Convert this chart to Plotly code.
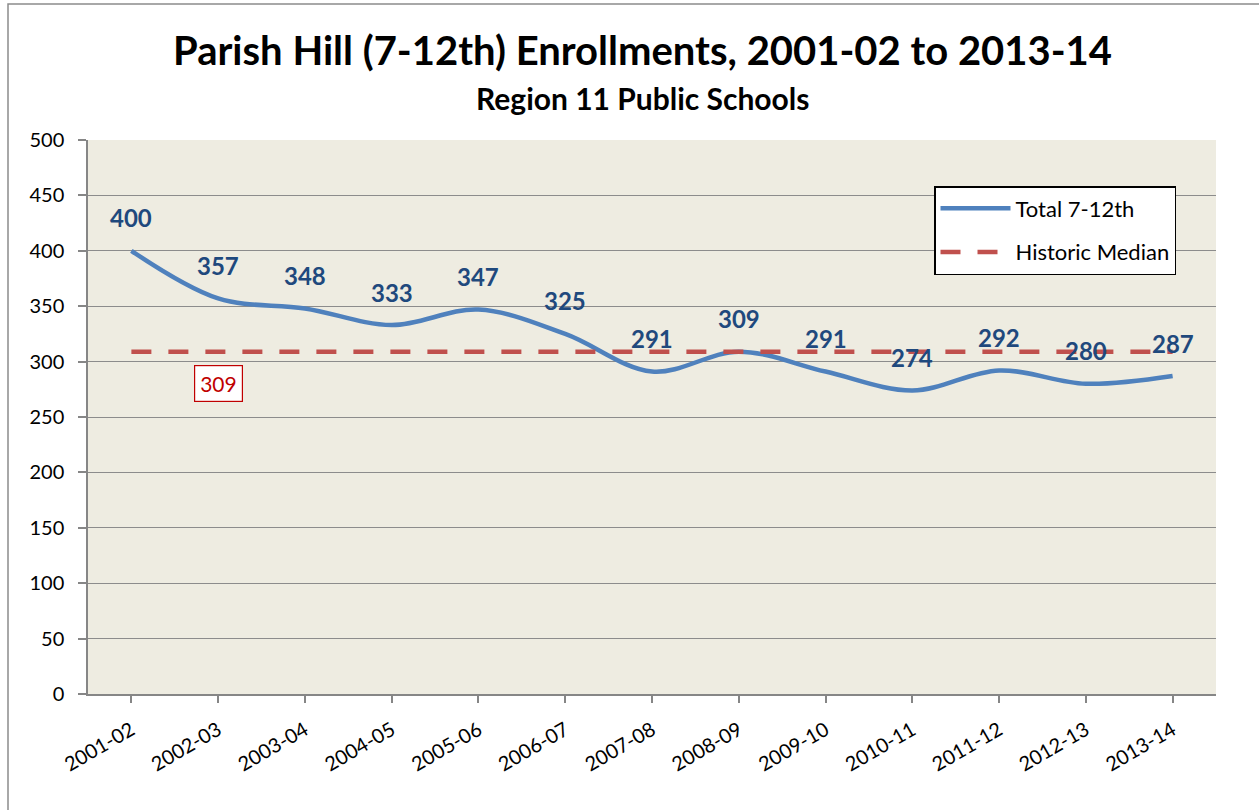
import plotly.graph_objects as go

years = ["2001-02", "2002-03", "2003-04", "2004-05", "2005-06", "2006-07", "2007-08",
         "2008-09", "2009-10", "2010-11", "2011-12", "2012-13", "2013-14"]
enrollment = [400, 357, 348, 333, 347, 325, 291, 309, 291, 274, 292, 280, 287]
median_value = 309
median_series = [median_value] * len(years)
y_ticks = list(range(0, 501, 50))

FONT = "Lato"
W, H = 1259, 810
L, R, T, B = 88, 43, 140, 116
pw, ph = W - L - R, H - T - B

def px_x(x):
    return (x - L) / pw

def px_y(y):
    return (H - B - y) / ph

fig = go.Figure()
fig.add_trace(go.Scatter(
    x=years, y=enrollment, mode="lines", name="Total 7-12th",
    line=dict(color="#4F81BD", width=4.5, shape="spline", smoothing=1.0),
    legendgroup="a", hoverinfo="skip"))
fig.add_trace(go.Scatter(
    x=years, y=median_series, mode="lines", name="Historic Median",
    line=dict(color="#C0504D", width=4.5, dash="20px,17px"),
    legendgroup="b", hoverinfo="skip"))

annotations = []
for yr, v in zip(years, enrollment):
    annotations.append(dict(x=yr, y=v, text=str(v), showarrow=False, yshift=33,
                            font=dict(family=FONT, size=24, color="#1F497D", weight="bold")))
annotations.append(dict(x=years[1], y=median_value, text=str(median_value), showarrow=False,
                        yshift=-32, bgcolor="white", bordercolor="#C00000", borderwidth=1.2,
                        borderpad=5, font=dict(family=FONT, size=21, color="#C00000")))
annotations.append(dict(xref="paper", yref="paper", x=px_x(642), y=px_y(50), text="<b>Parish Hill (7-12th) Enrollments, 2001-02 to 2013-14</b>",
                        showarrow=False, xanchor="center", yanchor="middle",
                        font=dict(family=FONT, size=40, color="black")))
annotations.append(dict(xref="paper", yref="paper", x=px_x(642), y=px_y(98), text="<b>Region 11 Public Schools</b>",
                        showarrow=False, xanchor="center", yanchor="middle",
                        font=dict(family=FONT, size=30, color="black")))

shapes = [dict(type="rect", xref="paper", yref="paper",
               x0=px_x(8), x1=px_x(1270), y0=px_y(820), y1=px_y(4),
               line=dict(color="#8C8C8C", width=1.5), fillcolor="rgba(0,0,0,0)", layer="below")]

fig.update_layout(
    width=W, height=H,
    margin=dict(l=L, r=R, t=T, b=B),
    paper_bgcolor="white", plot_bgcolor="#EEECE1",
    font=dict(family=FONT, color="black"),
    showlegend=True,
    legend=dict(x=px_x(934), y=px_y(186), xanchor="left", yanchor="top",
                bgcolor="white", bordercolor="black", borderwidth=1.5,
                font=dict(family=FONT, size=22, color="black"),
                tracegroupgap=12, itemwidth=70),
    annotations=annotations, shapes=shapes,
    xaxis=dict(type="category", range=[-0.5, 12.5], showgrid=False,
               showline=True, linecolor="#868686", linewidth=1.5,
               ticks="outside", ticklen=7, tickcolor="#868686", tickwidth=1.5,
               tickangle=-30, ticklabelstandoff=8,
               tickfont=dict(family=FONT, size=20, color="black"),
               fixedrange=True),
    yaxis=dict(range=[0, 500], tickvals=y_ticks, showgrid=True, gridcolor="#8C8C8C", gridwidth=1.3,
               showline=True, linecolor="#868686", linewidth=1.5, zeroline=False,
               ticks="outside", ticklen=8, tickcolor="#868686", tickwidth=1.5,
               ticklabelstandoff=10,
               tickfont=dict(family=FONT, size=20, color="black"), fixedrange=True),
)

fig.write_html("out.html", config={"displayModeBar": False},
               post_script="document.body.style.margin='0';")
